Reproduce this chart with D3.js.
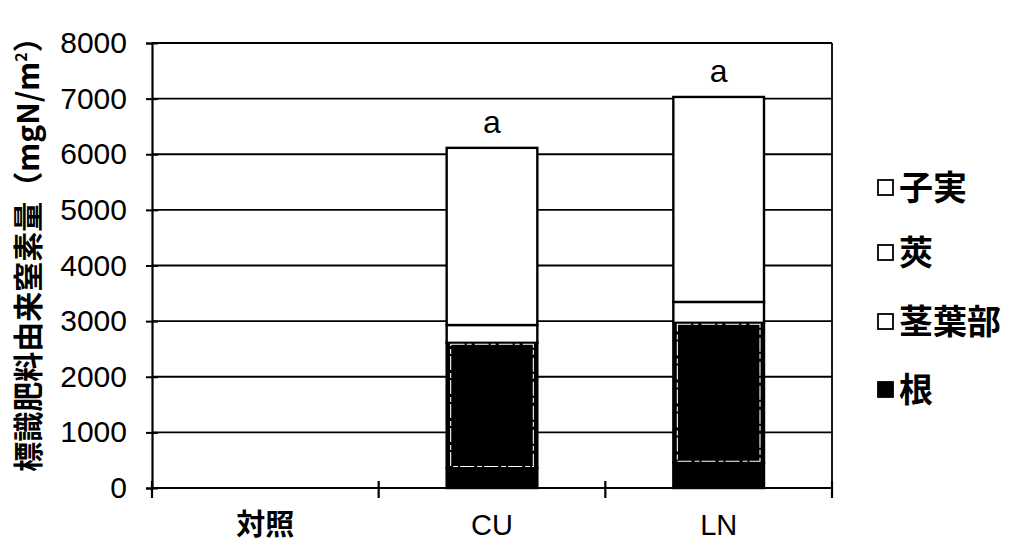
<!DOCTYPE html>
<html>
<head>
<meta charset="utf-8">
<script src="https://cdn.jsdelivr.net/npm/d3@7"></script>
<style>
  html, body { margin: 0; padding: 0; background: #fff; }
  svg text { fill: #000; }
</style>
</head>
<body>
<svg id="chart" width="1014" height="546"></svg>
<script>
// Categories (treatments) and stacked component values (mgN/m²)
const categories = ["対照", "CU", "LN"];
const seriesNames = ["根", "茎葉部", "莢", "子実"];
const rootN   = [0, 360, 455];
const stemLeafN = [0, 2250, 2515];
const podN    = [0, 320, 375];
const seedN   = [0, 3185, 3685];
const sigLabels = ["", "a", "a"];
const yTicks = [0, 1000, 2000, 3000, 4000, 5000, 6000, 7000, 8000];
const legendOrder = ["子実", "莢", "茎葉部", "根"];

const rows = categories.map((c, i) => ({
  cat: c, "根": rootN[i], "茎葉部": stemLeafN[i], "莢": podN[i], "子実": seedN[i]
}));

const svg = d3.select("#chart");
const m = { left: 152, right: 832, top: 43, bottom: 488 };

const x = d3.scaleBand().domain(categories).range([m.left, m.right]).paddingInner(0.6).paddingOuter(0.3);
const xOuter = d3.scaleBand().domain(categories).range([m.left, m.right]);
const y = d3.scaleLinear().domain([0, 8000]).range([m.bottom, m.top]);

const fills = { "根": "#000", "茎葉部": "#000", "莢": "#fff", "子実": "#fff" };
const sansFont = "Arial, 'Liberation Sans', sans-serif";
const cjkFont = "'Noto Sans CJK JP', sans-serif";

// Horizontal gridlines
svg.append("g").selectAll("line").data(yTicks).join("line")
  .attr("x1", m.left).attr("x2", m.right)
  .attr("y1", d => y(d)).attr("y2", d => y(d))
  .attr("stroke", "#000").attr("stroke-width", 1.8);

// Right border of the plot area
svg.append("line").attr("x1", m.right).attr("x2", m.right)
  .attr("y1", m.top).attr("y2", m.bottom).attr("stroke", "#000").attr("stroke-width", 1.8);

// Stacked bars
const stack = d3.stack().keys(seriesNames)(rows);
const layers = svg.append("g").selectAll("g").data(stack).join("g");
layers.selectAll("rect").data(d => d.map(p => ({ key: d.key, p })))
  .join("rect")
  .attr("x", d => x(d.p.data.cat))
  .attr("width", x.bandwidth())
  .attr("y", d => y(d.p[1]))
  .attr("height", d => y(d.p[0]) - y(d.p[1]))
  .attr("fill", d => fills[d.key])
  .attr("stroke", "#000")
  .attr("stroke-width", 2.4)
  .attr("display", d => (d.p[1] - d.p[0]) > 0 ? null : "none");

// Stem/leaf segment carries a thin white broken inner border
const stemLayer = stack.find(s => s.key === "茎葉部");
svg.append("g").selectAll("rect").data(stemLayer.filter(p => p[1] - p[0] > 0)).join("rect")
  .attr("x", p => x(p.data.cat) + 4)
  .attr("width", x.bandwidth() - 8)
  .attr("y", p => y(p[1]) + 1.5)
  .attr("height", p => y(p[0]) - y(p[1]) - 3)
  .attr("fill", "none")
  .attr("stroke", "#fff")
  .attr("stroke-width", 1.1)
  .attr("stroke-dasharray", "14,2,5,3");

// Significance letters
svg.append("g").selectAll("text").data(rows).join("text")
  .attr("x", d => x(d.cat) + x.bandwidth() / 2)
  .attr("y", d => y(d["根"] + d["茎葉部"] + d["莢"] + d["子実"]) - 15)
  .attr("text-anchor", "middle")
  .attr("font-family", sansFont).attr("font-size", 32)
  .text((d, i) => sigLabels[i]);

// Y axis
const yAxis = svg.append("g").attr("transform", `translate(${m.left},0)`)
  .call(d3.axisLeft(y).tickValues(yTicks).tickSize(6).tickPadding(19).tickFormat(d3.format("d")));
yAxis.select(".domain").attr("stroke", "#000").attr("stroke-width", 2.2);
yAxis.selectAll(".tick line").attr("stroke", "#000").attr("stroke-width", 2).attr("x2", 6).attr("x1", -6);
yAxis.selectAll(".tick text").attr("font-family", sansFont).attr("font-size", 30).attr("fill", "#000");

// X axis with category boundary ticks
const xAxisG = svg.append("g").attr("transform", `translate(0,${m.bottom})`);
xAxisG.append("line").attr("x1", m.left).attr("x2", m.right).attr("y1", 0).attr("y2", 0)
  .attr("stroke", "#000").attr("stroke-width", 2.2);
const boundaries = categories.map(c => xOuter(c)).concat([xOuter(categories[categories.length - 1]) + xOuter.bandwidth()]);
xAxisG.selectAll("line.tk").data(boundaries).join("line").attr("class", "tk")
  .attr("x1", d => d).attr("x2", d => d).attr("y1", -7).attr("y2", 10)
  .attr("stroke", "#000").attr("stroke-width", 2.2);
xAxisG.selectAll("text").data(categories).join("text")
  .attr("x", d => xOuter(d) + xOuter.bandwidth() / 2)
  .attr("y", 47)
  .attr("text-anchor", "middle")
  .attr("font-family", (d, i) => i === 0 ? cjkFont : sansFont)
  .attr("font-weight", (d, i) => i === 0 ? 700 : 400)
  .attr("font-size", 29)
  .text(d => d);

// Y axis title
const yTitle = svg.append("text")
  .attr("transform", `translate(39,247) rotate(-90)`)
  .attr("text-anchor", "middle")
  .attr("font-family", cjkFont).attr("font-weight", 700).attr("font-size", 30);
yTitle.append("tspan").text("標識肥料由来窒素量（mgN/m");
yTitle.append("tspan").attr("font-size", 16).attr("dy", -12).text("2");
yTitle.append("tspan").attr("dy", 12).text("）");

// Legend
const legendY = [188, 253, 322, 390];
const legend = svg.append("g").selectAll("g").data(legendOrder).join("g")
  .attr("transform", (d, i) => `translate(878,${legendY[i]})`);
legend.append("rect")
  .attr("x", 0).attr("y", -8).attr("width", 15).attr("height", 15)
  .attr("fill", d => d === "根" ? "#000" : "#fff")
  .attr("stroke", "#000").attr("stroke-width", 1.8);
legend.append("text")
  .attr("x", 21).attr("y", 0).attr("dy", "0.36em")
  .attr("font-family", cjkFont).attr("font-weight", 700).attr("font-size", 34)
  .text(d => d);
</script>
</body>
</html>
